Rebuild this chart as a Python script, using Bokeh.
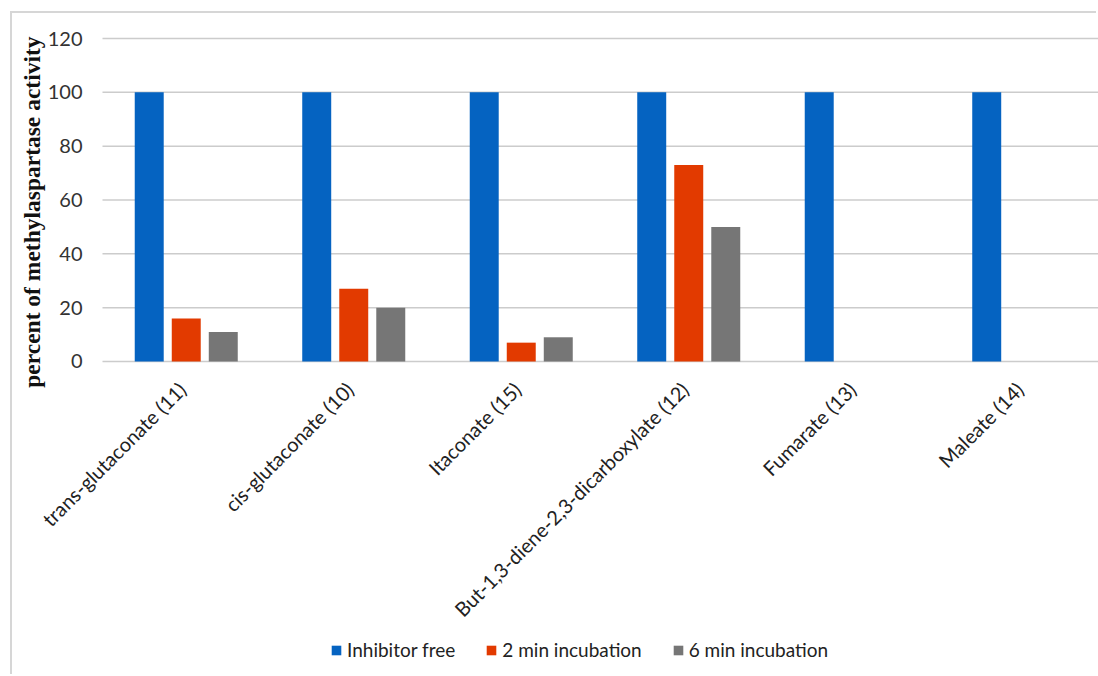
import numpy as np
from bokeh.plotting import figure
from bokeh.models import Range1d, Legend, LegendItem, ColumnDataSource
from bokeh.core.properties import value
from bokeh.transform import dodge
from bokeh.embed import file_html
from bokeh.resources import INLINE

categories = ["trans-glutaconate (11)", "cis-glutaconate (10)", "Itaconate (15)",
              "But-1,3-diene-2,3-dicarboxylate (12)", "Fumarate (13)", "Maleate (14)"]
inhibitor_free = [100, 100, 100, 100, 100, 100]
incubation_2min = [16, 27, 7, 73, 0, 0]
incubation_6min = [11, 20, 9, 50, 0, 0]
series_names = ["Inhibitor free", "2 min incubation", "6 min incubation"]
colors = ["#0563C1", "#E23A00", "#767676"]
y_ticks = [0, 20, 40, 60, 80, 100, 120]
y_tick_labels = [str(t) for t in y_ticks]
y_label = "percent of methylaspartase activity"

xpos = np.arange(len(categories)) + 0.5
src = ColumnDataSource(dict(x=xpos, a=inhibitor_free, b=incubation_2min, c=incubation_6min,
                            base=[0.0] * len(categories), name=categories))
tick_src = ColumnDataSource(dict(t=y_ticks, lab=y_tick_labels))

# one frame covering the whole chart box; zero of the value axis sits at the plot baseline
x_end = 5.9463
p = figure(frame_width=1086, frame_height=663, x_range=Range1d(-0.5373, x_end),
           y_range=Range1d(-117.03, 129.29),
           output_backend="svg", toolbar_location=None,
           min_border_left=0, min_border_top=0, min_border_right=0, min_border_bottom=0,
           margin=(13, 0, 0, 12))
p.styles = {"box-shadow": "-2px -2px 0 0 #d6d6d6"}
p.outline_line_color = None
p.background_fill_color = "white"
p.border_fill_color = "white"
p.xaxis.visible = False
p.yaxis.visible = False
p.xgrid.grid_line_color = None
p.ygrid.grid_line_color = None

# horizontal gridlines at the value ticks
p.segment(x0=0, x1=x_end, y0="t", y1="t", source=tick_src, line_color="#cccccc", line_width=1.5)

# value tick labels
p.text(x=-0.1194, y="t", text="lab", source=tick_src, text_align="right", text_baseline="middle",
       text_font=value("Lato"), text_font_size="20px", text_color="#333333")

# value axis title
p.text(x=[-0.4209], y=[55.5], text=[y_label], angle=np.pi / 2, text_align="center",
       text_baseline="middle", text_font=value("Liberation Serif"), text_font_style="bold",
       text_font_size="23.5px", text_color="#111111")

bw = 0.173
off = 0.221
r1 = p.vbar(x=dodge("x", -off, range=p.x_range), top="a", width=bw, source=src,
            fill_color=colors[0], line_color=None)
r2 = p.vbar(x=dodge("x", 0, range=p.x_range), top="b", width=bw, source=src,
            fill_color=colors[1], line_color=None)
r3 = p.vbar(x=dodge("x", off, range=p.x_range), top="c", width=bw, source=src,
            fill_color=colors[2], line_color=None)

# category labels, rotated 45 degrees, ending just below the zero line
p.text(x=dodge("x", -0.024, range=p.x_range), y=dodge("base", -9.0, range=p.y_range),
       text="name", source=src, angle=np.pi / 4, text_align="right", text_baseline="middle",
       text_font=value("Lato"), text_font_size="20px", text_color="#222222")

legend = Legend(items=[LegendItem(label=series_names[0], renderers=[r1]),
                       LegendItem(label=series_names[1], renderers=[r2]),
                       LegendItem(label=series_names[2], renderers=[r3])],
                orientation="horizontal", location=(318, 15))
legend.glyph_width = 12
legend.glyph_height = 12
legend.label_standoff = 5
legend.spacing = 30
legend.padding = 0
legend.margin = 0
legend.label_text_font = "Lato"
legend.label_text_font_size = "19px"
legend.label_text_color = "#222222"
legend.border_line_color = None
legend.background_fill_alpha = 0
p.add_layout(legend, "center")

open("out.html", "w").write(file_html(p, INLINE))
